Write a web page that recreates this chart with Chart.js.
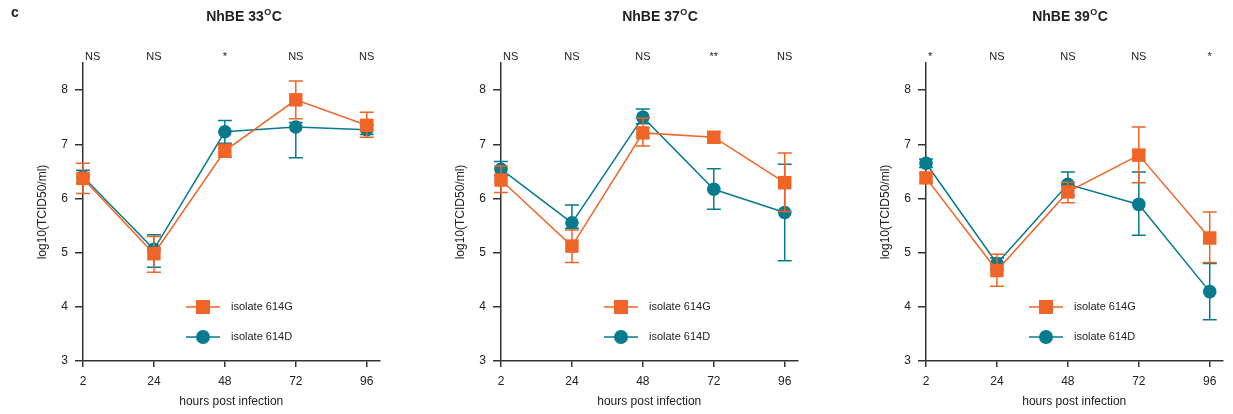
<!DOCTYPE html>
<html>
<head>
<meta charset="utf-8">
<script src="https://cdn.jsdelivr.net/npm/chart.js@4.4.1/dist/chart.umd.min.js"></script>
<style>
  html, body { margin: 0; padding: 0; background: #fff; }
  body { width: 1233px; height: 414px; position: relative; overflow: hidden; }
  .panel { position: absolute; top: 0; width: 389px; height: 414px; }
</style>
</head>
<body>
<div class="panel" style="left:0px"><canvas id="c0"></canvas></div>
<div class="panel" style="left:418px"><canvas id="c1"></canvas></div>
<div class="panel" style="left:843px"><canvas id="c2"></canvas></div>
<script>
// x categories (hours post infection) and y tick range
const hours = ["2", "24", "48", "72", "96"];
const yTicks = [3, 4, 5, 6, 7, 8];

const titles = ["NhBE 33", "NhBE 37", "NhBE 39"];

// significance marks above each time point
const sig33 = ["NS", "NS", "*", "NS", "NS"];
const sig37 = ["NS", "NS", "NS", "**", "NS"];
const sig39 = ["*", "NS", "NS", "NS", "*"];

// isolate 614G (mean, lower and upper end of error bar)
const g33 = [6.37, 4.98, 6.88, 7.82, 7.35];
const g33Lo = [6.09, 4.64, 6.76, 7.47, 7.13];
const g33Hi = [6.65, 5.30, 7.00, 8.17, 7.59];
const g37 = [6.34, 5.12, 7.21, 7.13, 6.29];
const g37Lo = [6.11, 4.82, 6.97, 7.03, 5.76];
const g37Hi = [6.60, 5.42, 7.48, 7.23, 6.84];
const g39 = [6.38, 4.67, 6.12, 6.80, 5.27];
const g39Lo = [6.30, 4.38, 5.92, 6.29, 4.82];
const g39Hi = [6.46, 4.97, 6.30, 7.32, 5.75];

// isolate 614D
const d33 = [6.40, 5.06, 7.23, 7.32, 7.27];
const d33Lo = [6.28, 4.73, 7.02, 6.75, 7.18];
const d33Hi = [6.52, 5.33, 7.44, 7.40, 7.36];
const d37 = [6.54, 5.55, 7.50, 6.17, 5.74];
const d37Lo = [6.42, 5.45, 7.38, 5.80, 4.85];
const d37Hi = [6.68, 5.88, 7.65, 6.55, 6.63];
const d39 = [6.65, 4.80, 6.26, 5.89, 4.28];
const d39Lo = [6.57, 4.70, 6.05, 5.32, 3.76];
const d39Hi = [6.73, 4.90, 6.49, 6.49, 4.80];

const ORANGE = "#EF6427";
const TEAL = "#067B8D";
const AXIS = "#333333";
const TEXT = "#222222";
const FONT = "'Liberation Sans', Arial, sans-serif";

const panels = [
  { canvas: "c0", left: 0, titleX: 244, title: titles[0], sig: sig33, g: g33, gLo: g33Lo, gHi: g33Hi, d: d33, dLo: d33Lo, dHi: d33Hi, tag: "c" },
  { canvas: "c1", left: 418, titleX: 660, title: titles[1], sig: sig37, g: g37, gLo: g37Lo, gHi: g37Hi, d: d37, dLo: d37Lo, dHi: d37Hi },
  { canvas: "c2", left: 843, titleX: 1070, title: titles[2], sig: sig39, g: g39, gLo: g39Lo, gHi: g39Hi, d: d39, dLo: d39Lo, dHi: d39Hi },
];

function toPoints(vals) {
  return vals.map((v, i) => ({ x: i, y: v }));
}

// error bars: drawn just before each dataset so its own markers sit on top
const errorBars = {
  id: "errorBars",
  beforeDatasetDraw(chart, args) {
    const ds = chart.data.datasets[args.index];
    const y = chart.scales.y;
    const ctx = chart.ctx;
    ctx.save();
    ctx.strokeStyle = ds.borderColor;
    ctx.lineWidth = 1.5;
    args.meta.data.forEach((pt, i) => {
      const yl = y.getPixelForValue(ds.lo[i]);
      const yh = y.getPixelForValue(ds.hi[i]);
      ctx.beginPath();
      ctx.moveTo(pt.x, yl);
      ctx.lineTo(pt.x, yh);
      ctx.moveTo(pt.x - 7, yl);
      ctx.lineTo(pt.x + 7, yl);
      ctx.moveTo(pt.x - 7, yh);
      ctx.lineTo(pt.x + 7, yh);
      ctx.stroke();
    });
    ctx.restore();
  },
};

function makePanel(p) {
  // title, significance marks and the inset legend
  const extras = {
    id: "extras",
    afterDraw(chart) {
      const { ctx, chartArea, scales } = chart;
      ctx.save();
      ctx.fillStyle = TEXT;
      ctx.textBaseline = "alphabetic";

      // title with superscript O
      const big = "bold 14px " + FONT;
      const small = "bold 9px " + FONT;
      ctx.font = big;
      const w1 = ctx.measureText(p.title).width;
      const w3 = ctx.measureText("C").width;
      ctx.font = small;
      const w2 = ctx.measureText("O").width;
      let tx = p.titleX - p.left - (w1 + w2 + w3 + 1) / 2;
      ctx.textAlign = "left";
      ctx.font = big;
      ctx.fillText(p.title, tx, 21);
      ctx.font = small;
      ctx.fillText("O", tx + w1 + 0.5, 15);
      ctx.font = big;
      ctx.fillText("C", tx + w1 + w2 + 1, 21);

      if (p.tag) {
        ctx.font = "bold 14px " + FONT;
        ctx.fillText(p.tag, 11, 17);
      }

      // significance labels
      ctx.font = "11px " + FONT;
      ctx.textAlign = "center";
      p.sig.forEach((s, i) => {
        const w = ctx.measureText(s).width;
        let x = scales.x.getPixelForValue(i);
        x = Math.max(x, chartArea.left + w / 2 + 2);
        ctx.fillText(s, x, 60);
      });

      // legend
      const items = [
        { label: "isolate 614G", color: ORANGE, style: "rect" },
        { label: "isolate 614D", color: TEAL, style: "circle" },
      ];
      const mx = chartArea.left + 120;
      items.forEach((it, k) => {
        const y = chartArea.bottom - 54 + k * 30;
        ctx.strokeStyle = it.color;
        ctx.fillStyle = it.color;
        ctx.lineWidth = 1.5;
        ctx.beginPath();
        ctx.moveTo(mx - 17, y);
        ctx.lineTo(mx + 17, y);
        ctx.stroke();
        if (it.style === "rect") {
          ctx.fillRect(mx - 7, y - 7, 14, 14);
        } else {
          ctx.beginPath();
          ctx.arc(mx, y, 7, 0, Math.PI * 2);
          ctx.fill();
        }
        ctx.fillStyle = TEXT;
        ctx.font = "11px " + FONT;
        ctx.textAlign = "left";
        ctx.textBaseline = "middle";
        ctx.fillText(it.label, chartArea.left + 148, y);
      });
      ctx.restore();
    },
  };

  const ctx = document.getElementById(p.canvas).getContext("2d");
  new Chart(ctx, {
    type: "line",
    data: {
      datasets: [
        {
          label: "isolate 614G",
          data: toPoints(p.g),
          lo: p.gLo,
          hi: p.gHi,
          borderColor: ORANGE,
          backgroundColor: ORANGE,
          borderWidth: 1.5,
          pointStyle: "rect",
          pointRadius: 9.5,
          pointBorderWidth: 0,
          tension: 0,
          clip: false,
        },
        {
          label: "isolate 614D",
          data: toPoints(p.d),
          lo: p.dLo,
          hi: p.dHi,
          borderColor: TEAL,
          backgroundColor: TEAL,
          borderWidth: 1.5,
          pointStyle: "circle",
          pointRadius: 6.8,
          pointBorderWidth: 0,
          tension: 0,
          clip: false,
        },
      ],
    },
    options: {
      responsive: true,
      maintainAspectRatio: false,
      animation: false,
      events: [],
      layout: { padding: { left: 31, right: 8, top: 63, bottom: 1 } },
      scales: {
        x: {
          type: "linear",
          min: 0,
          max: 4.18,
          afterFit: (s) => { s.height = 52; },
          grid: { drawOnChartArea: false, drawTicks: true, tickLength: 6, color: AXIS, lineWidth: 1.5 },
          border: { color: AXIS, width: 1.5 },
          ticks: {
            stepSize: 1,
            includeBounds: false,
            autoSkip: false,
            maxRotation: 0,
            padding: 7,
            color: TEXT,
            font: { family: FONT, size: 12 },
            callback: (v) => (Number.isInteger(v) ? hours[v] : ""),
          },
          title: {
            display: true,
            text: "hours post infection",
            color: TEXT,
            font: { family: FONT, size: 12 },
            padding: { top: 4, bottom: 4 },
          },
        },
        y: {
          min: yTicks[0],
          max: 8.5,
          afterFit: (s) => { s.width = 52; },
          grid: { drawOnChartArea: false, drawTicks: true, tickLength: 8, color: AXIS, lineWidth: 1.5 },
          border: { color: AXIS, width: 1.5 },
          ticks: {
            stepSize: 1,
            includeBounds: false,
            padding: 7,
            color: TEXT,
            font: { family: FONT, size: 12 },
            callback: (v) => (yTicks.includes(v) ? String(v) : ""),
          },
          title: {
            display: true,
            text: "log10(TCID50/ml)",
            color: TEXT,
            font: { family: FONT, size: 12 },
            padding: { top: 4, bottom: 4 },
          },
        },
      },
      plugins: {
        legend: { display: false },
        tooltip: { enabled: false },
      },
    },
    plugins: [errorBars, extras],
  });
}

panels.forEach(makePanel);
</script>
</body>
</html>
